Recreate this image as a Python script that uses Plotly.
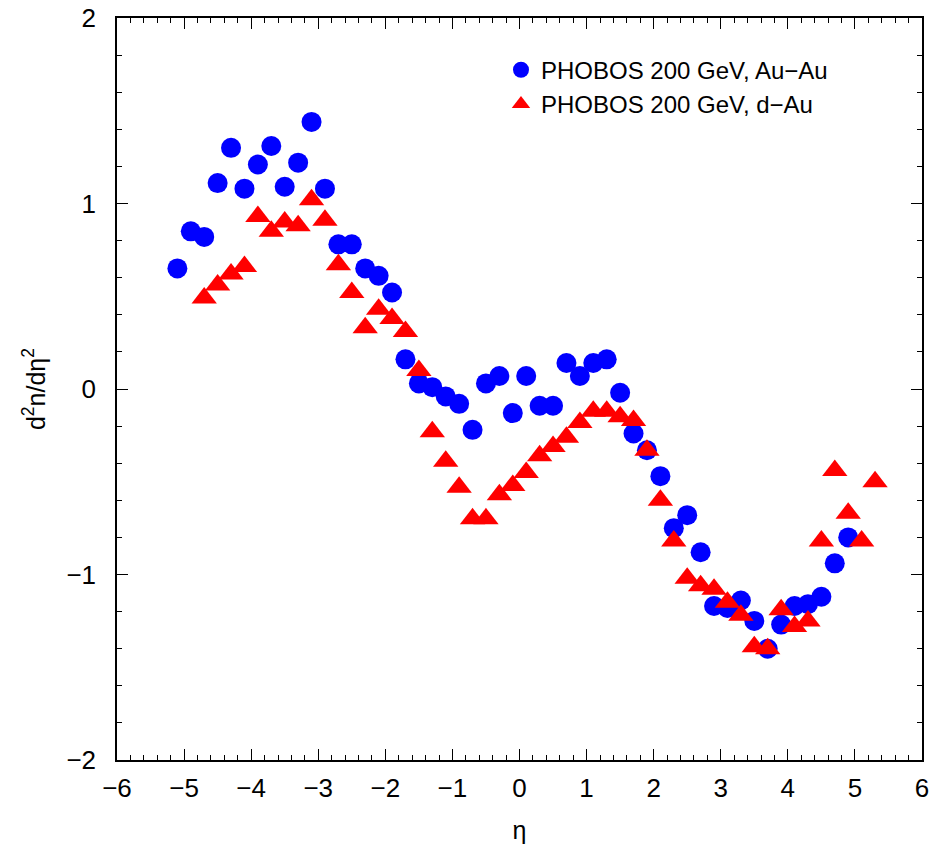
import plotly.graph_objects as go

eta_auau = [-5.1, -4.9, -4.7, -4.5, -4.3, -4.1, -3.9, -3.7, -3.5, -3.3, -3.1, -2.9, -2.7, -2.5,
            -2.3, -2.1, -1.9, -1.7, -1.5, -1.3, -1.1, -0.9, -0.7, -0.5, -0.3, -0.1, 0.1, 0.3,
            0.5, 0.7, 0.9, 1.1, 1.3, 1.5, 1.7, 1.9, 2.1, 2.3, 2.5, 2.7, 2.9, 3.1, 3.3, 3.5,
            3.7, 3.9, 4.1, 4.3, 4.5, 4.7, 4.9]
val_auau = [0.65, 0.85, 0.82, 1.11, 1.30, 1.08, 1.21, 1.31, 1.09, 1.22, 1.44, 1.08, 0.78, 0.78,
            0.65, 0.61, 0.52, 0.16, 0.03, 0.01, -0.04, -0.08, -0.22, 0.03, 0.07, -0.13, 0.07, -0.09,
            -0.09, 0.14, 0.07, 0.14, 0.16, -0.02, -0.24, -0.33, -0.47, -0.75, -0.68, -0.88, -1.17, -1.18, -1.14, -1.25,
            -1.40, -1.27, -1.17, -1.16, -1.12, -0.94, -0.80]

eta_dau = [-4.7, -4.5, -4.3, -4.1, -3.9, -3.7, -3.5, -3.3, -3.1, -2.9, -2.7, -2.5, -2.3, -2.1,
           -1.9, -1.7, -1.5, -1.3, -1.1, -0.9, -0.7, -0.5, -0.3, -0.1, 0.1, 0.3, 0.5, 0.7,
           0.9, 1.1, 1.3, 1.5, 1.7, 1.9, 2.1, 2.3, 2.5, 2.7, 2.9, 3.1, 3.3, 3.5, 3.7, 3.9,
           4.1, 4.3, 4.5, 4.7, 4.9, 5.1, 5.3]
val_dau = [0.49, 0.56, 0.62, 0.66, 0.93, 0.85, 0.90, 0.88, 1.02, 0.91, 0.67, 0.52, 0.33, 0.43,
           0.38, 0.31, 0.10, -0.23, -0.39, -0.53, -0.70, -0.70, -0.57, -0.52, -0.45, -0.36, -0.31, -0.26,
           -0.18, -0.12, -0.12, -0.15, -0.17, -0.33, -0.60, -0.82, -1.02, -1.06, -1.08, -1.15, -1.22, -1.39, -1.40, -1.19,
           -1.28, -1.25, -0.82, -0.44, -0.67, -0.82, -0.50]

x_ticks = [-6, -5, -4, -3, -2, -1, 0, 1, 2, 3, 4, 5, 6]
x_labels = ["\u22126", "\u22125", "\u22124", "\u22123", "\u22122", "\u22121", "0", "1", "2", "3", "4", "5", "6"]
y_ticks = [-2, -1, 0, 1, 2]
y_labels = ["\u22122", "\u22121", "0", "1", "2"]

FONT = "Liberation Sans, Arial, sans-serif"

fig = go.Figure()
fig.add_trace(go.Scatter(
    x=eta_auau, y=val_auau, mode="markers", name="PHOBOS 200 GeV, Au\u2212Au",
    marker=dict(symbol="circle", size=20, color="#0000FF", line=dict(width=0))))
fig.add_trace(go.Scatter(
    x=eta_dau, y=val_dau, mode="markers", name="PHOBOS 200 GeV, d\u2212Au",
    marker=dict(symbol="triangle-up", size=22, color="#FF0000", line=dict(width=0))))

axis_common = dict(
    showgrid=False, zeroline=False, showline=True, linecolor="black", linewidth=1.5,
    mirror="allticks", ticks="inside", ticklen=11, tickwidth=1.2, tickcolor="black",
    tickfont=dict(family=FONT, size=26, color="black"), automargin=False,
)

fig.update_xaxes(
    range=[-6, 6], tickvals=x_ticks, ticktext=x_labels, ticklabelstandoff=4,
    title=dict(text="\u03b7", font=dict(family=FONT, size=25, color="black"), standoff=20),
    minor=dict(dtick=0.2, ticklen=5, ticks="inside", tickcolor="black", tickwidth=1),
    **axis_common)
fig.update_yaxes(
    range=[-2, 2], tickvals=y_ticks, ticktext=y_labels, ticklabelstandoff=14,
    title=dict(text="d<sup>2</sup>n/d\u03b7<sup>2</sup>", font=dict(family=FONT, size=25, color="black"), standoff=14),
    minor=dict(dtick=0.2, ticklen=5, ticks="inside", tickcolor="black", tickwidth=1),
    **axis_common)

fig.update_layout(
    width=932, height=848,
    margin=dict(l=117, r=10, t=18, b=88),
    plot_bgcolor="white", paper_bgcolor="white",
    font=dict(family=FONT, size=24, color="black"),
    legend=dict(x=0.477, y=0.96, xanchor="left", yanchor="top",
                bgcolor="rgba(0,0,0,0)", font=dict(family=FONT, size=24, color="black"),
                itemsizing="trace", tracegroupgap=0),
    showlegend=True,
)

fig.write_html("out.html")
